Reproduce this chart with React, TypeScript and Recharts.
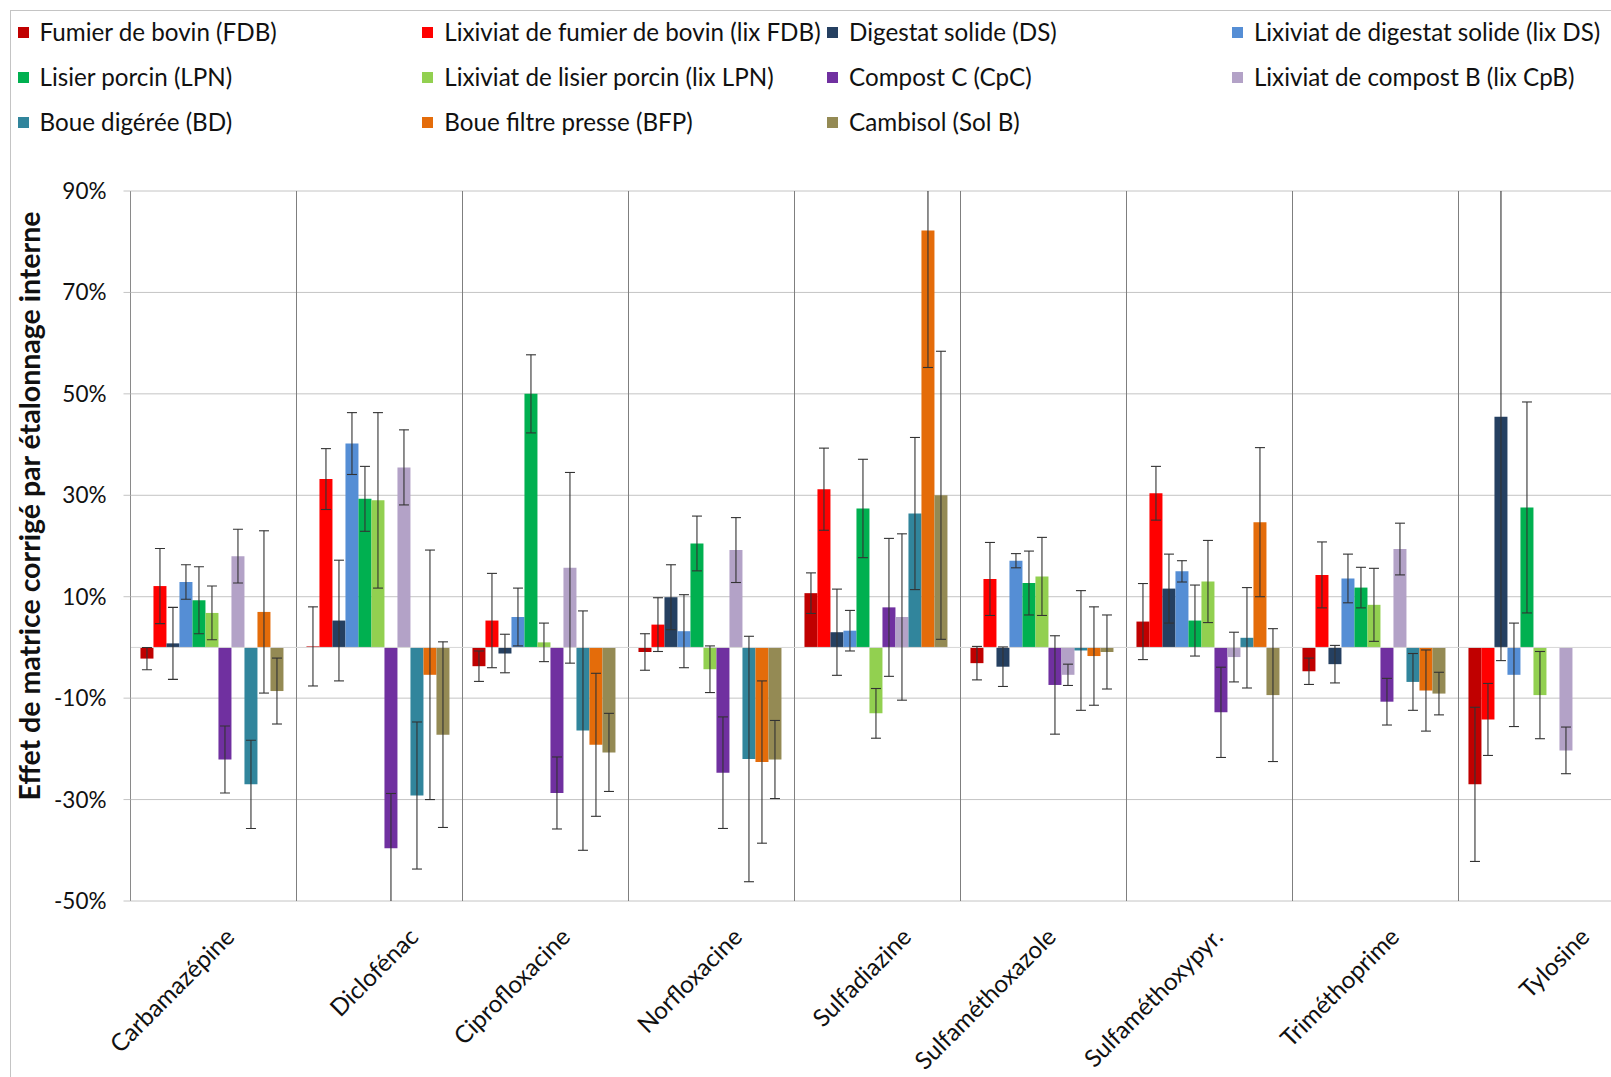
import React from 'react';
import { BarChart, Bar, XAxis, YAxis, CartesianGrid, ErrorBar, ReferenceLine } from 'recharts';

const categories = ['Carbamazépine', 'Diclofénac', 'Ciprofloxacine', 'Norfloxacine', 'Sulfadiazine', 'Sulfaméthoxazole', 'Sulfaméthoxypyr.', 'Triméthoprime', 'Tylosine'];

const seriesKeys = ['fdb', 'lixFdb', 'ds', 'lixDs', 'lpn', 'lixLpn', 'cpc', 'lixCpb', 'bd', 'bfp', 'solB'];
const seriesNames = [
  'Fumier de bovin (FDB)', 'Lixiviat de fumier de bovin (lix FDB)', 'Digestat solide (DS)', 'Lixiviat de digestat solide (lix DS)',
  'Lisier porcin (LPN)', 'Lixiviat de lisier porcin (lix LPN)', 'Compost C (CpC)', 'Lixiviat de compost B (lix CpB)',
  'Boue digérée (BD)', 'Boue filtre presse (BFP)', 'Cambisol (Sol B)',
];
const seriesColors = ['#C00000', '#FF0000', '#254061', '#558ED5', '#00B050', '#92D050', '#7030A0', '#B3A2C7', '#31859C', '#E46C0A', '#948A54'];

const fdb = [-2.2, 0.2, -3.7, -0.9, 10.7, -3.1, 5.1, -4.7, -27.0];
const fdbErr = [2.2, 7.8, 3.0, 3.6, 4.0, 3.3, 7.5, 2.6, 15.2];
const lixFdb = [12.1, 33.2, 5.3, 4.5, 31.2, 13.5, 30.4, 14.3, -14.2];
const lixFdbErr = [7.4, 6.0, 9.3, 5.3, 8.1, 7.2, 5.3, 6.5, 7.1];
const ds = [0.8, 5.3, -1.2, 9.9, 3.0, -3.8, 11.6, -3.3, 45.5];
const dsErr = [7.1, 11.9, 3.8, 6.4, 8.5, 3.9, 6.8, 3.7, 48.1];
const lixDs = [12.9, 40.2, 6.0, 3.2, 3.3, 17.1, 15.0, 13.6, -5.4];
const lixDsErr = [3.4, 6.1, 5.7, 7.2, 4.0, 1.4, 2.1, 4.8, 10.2];
const lpn = [9.3, 29.3, 50.0, 20.5, 27.4, 12.7, 5.3, 11.8, 27.6];
const lpnErr = [6.6, 6.4, 7.7, 5.4, 9.7, 6.3, 7.0, 4.0, 20.8];
const lixLpn = [6.8, 29.0, 1.0, -4.3, -13.0, 14.0, 13.0, 8.4, -9.4];
const lixLpnErr = [5.3, 17.3, 3.8, 4.6, 4.9, 7.7, 8.1, 7.2, 8.6];
const cpc = [-22.1, -39.6, -28.7, -24.7, 7.9, -7.4, -12.8, -10.7, null];
const cpcErr = [6.6, 10.8, 7.1, 11.0, 13.6, 9.7, 8.9, 4.6, null];
const lixCpb = [18.0, 35.5, 15.7, 19.2, 6.0, -5.4, -1.9, 19.4, -20.3];
const lixCpbErr = [5.3, 7.4, 18.8, 6.4, 16.4, 2.1, 4.9, 5.1, 4.6];
const bd = [-27.0, -29.2, -16.4, -22.0, 26.4, -0.6, 1.9, -6.8, null];
const bdErr = [8.7, 14.5, 23.6, 24.2, 15.0, 11.8, 9.9, 5.6, null];
const bfp = [7.0, -5.4, -19.2, -22.6, 82.2, -1.7, 24.7, -8.5, null];
const bfpErr = [16.0, 24.6, 14.1, 16.0, 27.0, 9.7, 14.7, 8.0, null];
const solB = [-8.6, -17.2, -20.7, -22.1, 30.0, -0.9, -9.4, -9.1, null];
const solBErr = [6.5, 18.3, 7.7, 7.7, 28.4, 7.3, 13.1, 4.2, null];

const yTicks = [-50, -30, -10, 10, 30, 50, 70, 90];
const yTitle = 'Effet de matrice corrigé par étalonnage interne';

const seriesValues = [fdb, lixFdb, ds, lixDs, lpn, lixLpn, cpc, lixCpb, bd, bfp, solB];
const seriesErrors = [fdbErr, lixFdbErr, dsErr, lixDsErr, lpnErr, lixLpnErr, cpcErr, lixCpbErr, bdErr, bfpErr, solBErr];

const data = categories.map((name, i) => {
  const row: any = { name };
  seriesKeys.forEach((k, s) => {
    row[k] = seriesValues[s][i];
    row[k + '_err'] = seriesErrors[s][i];
  });
  return row;
});

const FONT = 'Lato, "Open Sans", sans-serif';
const XTICK_SIZE = 24.2;
const YTICK_SIZE = 22.5;
const LEGEND_SIZE = 24.2;

const PLOT = { left: 130.5, top: 191, width: 1494, height: 710 };

let ctx: any = null;
const measure = (t: string, font: string) => {
  if (!ctx) ctx = document.createElement('canvas').getContext('2d');
  ctx.font = font;
  return ctx.measureText(t).width;
};

const XTick = (props: any) => {
  const { x, y, payload } = props;
  const w = measure(String(payload.value), `${XTICK_SIZE}px Lato`);
  const px = x + 80 - 0.352 * w;
  const py = y + 37.5;
  return (
    <text x={px} y={py} textAnchor="end" transform={`rotate(-45, ${px}, ${py})`} fontSize={XTICK_SIZE} fontFamily={FONT} fill="#111">
      {payload.value}
    </text>
  );
};

const YTitle = () => (
  <g>
    <defs>
      <clipPath id="plotClip">
        <rect x={PLOT.left} y={PLOT.top} width={PLOT.width} height={PLOT.height} />
      </clipPath>
    </defs>
    <text x={40} y={506} textAnchor="middle" transform="rotate(-90, 40, 506)" fontSize={28.5} fontWeight="bold" fontFamily={FONT} fill="#111">
      {yTitle}
    </text>
  </g>
);

const vGen = (p: any) => {
  const off = p && p.offset ? p.offset : PLOT;
  const n = categories.length;
  const out: number[] = [];
  for (let i = 0; i <= n; i++) out.push(off.left + (i * off.width) / n);
  return out;
};

export default function App() {
  return (
    <div style={{ position: 'absolute', left: 0, top: 0, width: 1611, height: 1077, overflow: 'hidden', background: '#fff', fontFamily: FONT }}>
      <style>{`.recharts-errorBars, .recharts-errorBar { clip-path: url(#plotClip); }`}</style>
      <div style={{ position: 'absolute', left: 10, top: 10, width: 1700, height: 1200, borderLeft: '1px solid #c4c4c4', borderTop: '1px solid #c4c4c4' }} />
      {seriesNames.map((nm, i) => {
        const col = i % 4;
        const row = Math.floor(i / 4);
        const left = 17.5 + col * 404.8;
        const cy = 32 + row * 45.2;
        return (
          <div key={nm} style={{ position: 'absolute', left, top: cy - 15, height: 30, display: 'flex', alignItems: 'center', whiteSpace: 'nowrap' }}>
            <div style={{ width: 11, height: 11, background: seriesColors[i], marginRight: 11 }} />
            <span style={{ fontSize: LEGEND_SIZE, color: '#111', lineHeight: '30px' }}>{nm}</span>
          </div>
        );
      })}
      <div style={{ position: 'absolute', left: 0, top: 0 }}>
        <BarChart width={1640} height={1077} data={data} margin={{ top: 191, right: 15.5, bottom: 6, left: 30 }} barCategoryGap="6%" barGap={0}>
          <CartesianGrid horizontal={true} vertical={false} stroke="#c4c4c4" strokeWidth={1} />
          <CartesianGrid horizontal={false} vertical={true} stroke="#7f7f7f" strokeWidth={1} verticalCoordinatesGenerator={vGen} />
          <XAxis dataKey="name" axisLine={false} tickLine={false} tickSize={0} tickMargin={0} height={170} interval={0} tick={<XTick />} />
          <YAxis
            type="number"
            domain={[-50, 90]}
            ticks={yTicks}
            allowDataOverflow={true}
            width={100.5}
            axisLine={{ stroke: '#8a8a8a' }}
            tickLine={{ stroke: '#c4c4c4' }}
            tickSize={7}
            tickMargin={17}
            tickFormatter={(v: number) => `${v}%`}
            tick={{ fontSize: YTICK_SIZE, fontFamily: FONT, fill: '#111' }}
            label={{ content: <YTitle /> }}
          />
          <ReferenceLine y={0} stroke="#d6d6d6" strokeWidth={1} />
          {seriesKeys.map((k, s) => (
            <Bar key={k} dataKey={k} name={seriesNames[s]} fill={seriesColors[s]} isAnimationActive={false}>
              <ErrorBar dataKey={k + '_err'} width={5} stroke="#333" strokeWidth={1.1} direction="y" isAnimationActive={false} />
            </Bar>
          ))}
        </BarChart>
      </div>
    </div>
  );
}
